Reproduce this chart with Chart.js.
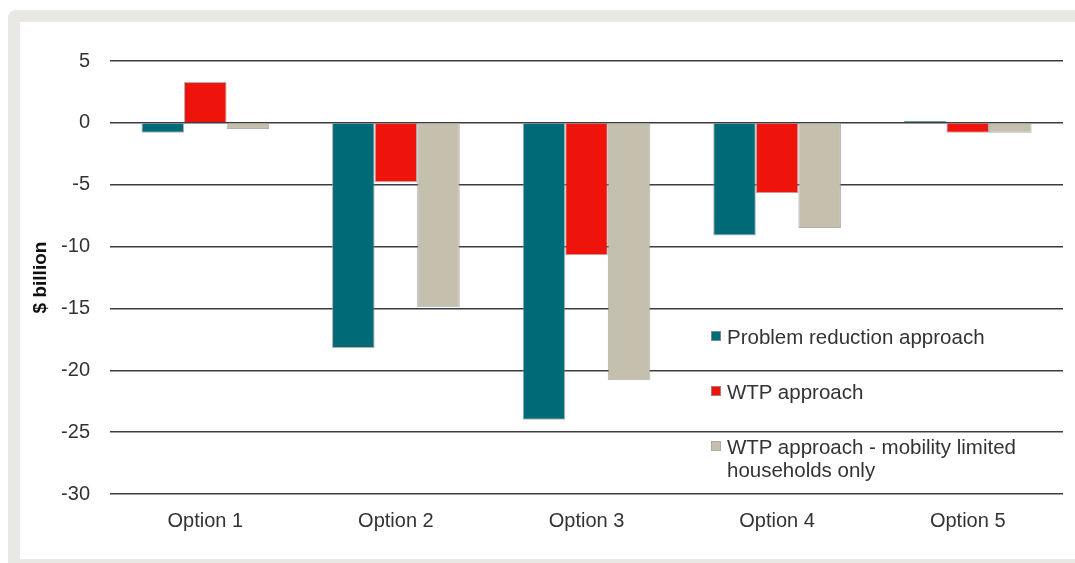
<!DOCTYPE html>
<html>
<head>
<meta charset="utf-8">
<script src="https://cdn.jsdelivr.net/npm/chart.js@4.4.1/dist/chart.umd.min.js"></script>
<style>
  html, body { margin: 0; padding: 0; background: #fff; width: 1075px; height: 563px; overflow: hidden; }
  body { position: relative; font-family: "Liberation Sans", Arial, sans-serif; }
  #frame { position: absolute; left: 8px; top: 10px; width: 1100px; height: 600px; background: #e9e8e4; border-radius: 8px; }
  #box { position: absolute; left: 20px; top: 22px; width: 1055px; height: 537px; background: #fff; }
  #legend { position: absolute; left: 711px; top: 325px; width: 315px; color: #333; font-size: 20.5px; line-height: 23px; }
  .item { display: flex; align-items: flex-start; margin-bottom: 32px; }
  .swatch { flex: none; width: 10px; height: 10px; margin-top: 6px; margin-right: 6px; box-sizing: border-box; border: 1px solid rgba(160,160,160,0.7); }
</style>
</head>
<body>
<div id="frame"></div>
<div id="box"><canvas id="chart" width="1055" height="537"></canvas></div>
<div id="legend"></div>
<script>
// values ($ billion)
const categories = ["Option 1", "Option 2", "Option 3", "Option 4", "Option 5"];
const seriesNames = ["Problem reduction approach", "WTP approach", "WTP approach - mobility limited households only"];
const problemReduction = [-0.8, -18.2, -24.0, -9.1, 0.15];
const wtp = [3.3, -4.8, -10.7, -5.7, -0.8];
const wtpMobility = [-0.5, -14.9, -20.8, -8.5, -0.8];
const colors = ["#006b77", "#ee140b", "#c5bfad"];
const yTicks = [5, 0, -5, -10, -15, -20, -25, -30];

const textColor = "#333";
const fontFamily = '"Liberation Sans", Arial, sans-serif';

const chart = new Chart(document.getElementById("chart"), {
  type: "bar",
  data: {
    labels: categories,
    datasets: [problemReduction, wtp, wtpMobility].map((vals, i) => ({
      label: seriesNames[i],
      data: vals,
      backgroundColor: colors[i],
      borderColor: "rgba(150,150,150,0.75)",
      borderWidth: 1,
      categoryPercentage: 0.67,
      barPercentage: 1
    }))
  },
  options: {
    responsive: false,
    animation: false,
    layout: { padding: { left: 0, top: 39, right: 12, bottom: 0 } },
    plugins: { legend: { display: false }, tooltip: { enabled: false } },
    scales: {
      x: {
        grid: { display: false },
        border: { display: false },
        ticks: { color: textColor, font: { family: fontFamily, size: 20 }, padding: 7 },
        afterFit: s => { s.height = 65; }
      },
      y: {
        min: Math.min(...yTicks),
        max: Math.max(...yTicks),
        afterBuildTicks: s => { s.ticks = yTicks.map(v => ({ value: v })); },
        grid: { color: "#3c3c3c", lineWidth: 1.5, drawTicks: false },
        border: { display: false },
        ticks: { color: textColor, font: { family: fontFamily, size: 20 }, padding: 20 },
        title: {
          display: true,
          text: "$ billion",
          color: "#111",
          font: { family: fontFamily, size: 19, weight: "bold" },
          padding: { top: 9, bottom: 0 }
        },
        afterFit: s => { s.width = 90; }
      }
    }
  }
});

// legend inside the plot, built from the datasets
const legend = document.getElementById("legend");
chart.data.datasets.forEach(ds => {
  const item = document.createElement("div");
  item.className = "item";
  const sw = document.createElement("span");
  sw.className = "swatch";
  sw.style.background = ds.backgroundColor;
  const txt = document.createElement("span");
  txt.textContent = ds.label;
  item.appendChild(sw);
  item.appendChild(txt);
  legend.appendChild(item);
});
</script>
</body>
</html>
